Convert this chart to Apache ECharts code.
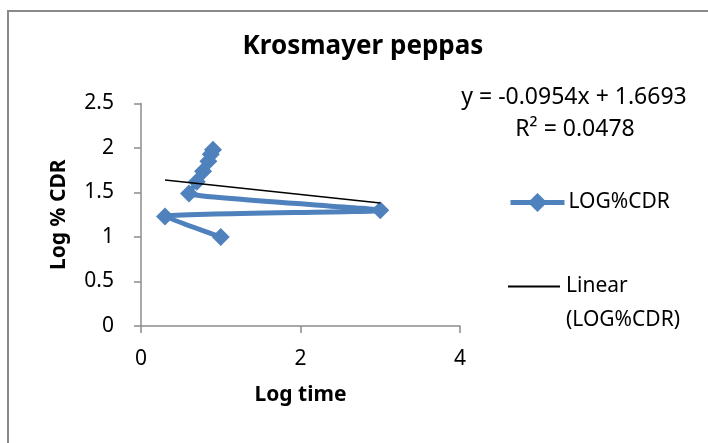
<!DOCTYPE html>
<html>
<head>
<meta charset="utf-8">
<script src="https://cdn.jsdelivr.net/npm/echarts@6/dist/echarts.min.js"></script>
<style>html,body{margin:0;padding:0;background:#fff}#c{width:708px;height:443px}</style>
</head>
<body>
<div id="c"></div>
<script>
const logTime = [1.0, 0.301, 3.0, 0.602, 0.699, 0.778, 0.845, 0.875, 0.903];
const logCDR  = [1.0, 1.23, 1.30, 1.49, 1.62, 1.74, 1.85, 1.93, 1.98];
const trendSlope = -0.0954;
const trendIntercept = 1.6693;
const yTicks = [0, 0.5, 1, 1.5, 2, 2.5];
const xTicks = [0, 2, 4];

const FONT = 'Noto Sans';
const pts = logTime.map((x, i) => [x, logCDR[i]]);
const xMin = Math.min(...logTime), xMax = Math.max(...logTime);
const trend = [[xMin, trendIntercept + trendSlope * xMin], [xMax, trendIntercept + trendSlope * xMax]];

const chart = echarts.init(document.getElementById('c'));
chart.setOption({
  animation: false,
  textStyle: { fontFamily: FONT },
  title: {
    text: 'Krosmayer peppas', left: 363, top: 34, textAlign: 'center', padding: 0,
    textStyle: { fontFamily: FONT, fontSize: 26, fontWeight: 'bold', color: '#000' }
  },
  grid: { left: 141, right: 248, top: 103.5, bottom: 117 },
  xAxis: {
    type: 'value', min: xTicks[0], max: xTicks[xTicks.length - 1], interval: 2,
    name: 'Log time', nameLocation: 'middle', nameGap: 59,
    nameTextStyle: { fontFamily: FONT, fontSize: 21, fontWeight: 'bold', color: '#000' },
    axisLine: { show: true, lineStyle: { color: '#8c8c8c', width: 1.5 } },
    axisTick: { show: true, length: 7, lineStyle: { color: '#8c8c8c', width: 1.5 } },
    axisLabel: { fontFamily: FONT, fontSize: 21, color: '#000', margin: 23 },
    splitLine: { show: false }
  },
  yAxis: {
    type: 'value', min: yTicks[0], max: yTicks[yTicks.length - 1], interval: 0.5,
    name: 'Log % CDR', nameLocation: 'middle', nameGap: 71, nameRotate: 90,
    nameTextStyle: { fontFamily: FONT, fontSize: 21, fontWeight: 'bold', color: '#000' },
    axisLine: { show: true, lineStyle: { color: '#8c8c8c', width: 1.5 } },
    axisTick: { show: true, length: 7, lineStyle: { color: '#8c8c8c', width: 1.5 } },
    axisLabel: { fontFamily: FONT, fontSize: 21, color: '#000', margin: 27 },
    splitLine: { show: false }
  },
  legend: [
    {
      data: ['LOG%CDR'], orient: 'vertical', left: 508, top: 192, padding: 0,
      itemWidth: 54, itemHeight: 24, itemGap: 4,
      lineStyle: { width: 5, color: '#4F81BD' },
      textStyle: { fontFamily: FONT, fontSize: 21, color: '#000', padding: [0, 0, 0, -1] }
    },
    {
      data: [{ name: 'Linear (LOG%CDR)', icon: 'rect' }], orient: 'vertical', left: 508, top: 276, padding: 0,
      itemWidth: 52, itemHeight: 2, itemGap: 4,
      formatter: () => 'Linear',
      textStyle: { fontFamily: FONT, fontSize: 21, color: '#000', padding: [0, 0, 0, 1] }
    }
  ],
  graphic: [
    { type: 'rect', shape: { x: 8, y: 11, width: 800, height: 500 }, style: { fill: 'none', stroke: '#898989', lineWidth: 2 }, silent: true },
    { type: 'text', left: 566, top: 310, style: { text: '(LOG%CDR)', font: '21px "Noto Sans"', fill: '#000' } },
    { type: 'text', x: 574, y: 97, style: { text: 'y = -0.0954x + 1.6693', font: '23px "Noto Sans"', fill: '#000', align: 'center', verticalAlign: 'middle' } },
    { type: 'text', x: 575, y: 129, style: { text: 'R² = 0.0478', font: '23px "Noto Sans"', fill: '#000', align: 'center', verticalAlign: 'middle' } }
  ],
  series: [
    {
      name: 'LOG%CDR', type: 'line', data: pts, smooth: 0.15,
      symbol: 'diamond', symbolSize: 18,
      lineStyle: { color: '#4F81BD', width: 5 },
      itemStyle: { color: '#4F81BD' },
      z: 2
    },
    {
      name: 'Linear (LOG%CDR)', type: 'line', data: trend, symbol: 'none',
      lineStyle: { color: '#000', width: 1.5 },
      itemStyle: { color: '#000' },
      z: 3
    }
  ]
});
</script>
</body>
</html>
